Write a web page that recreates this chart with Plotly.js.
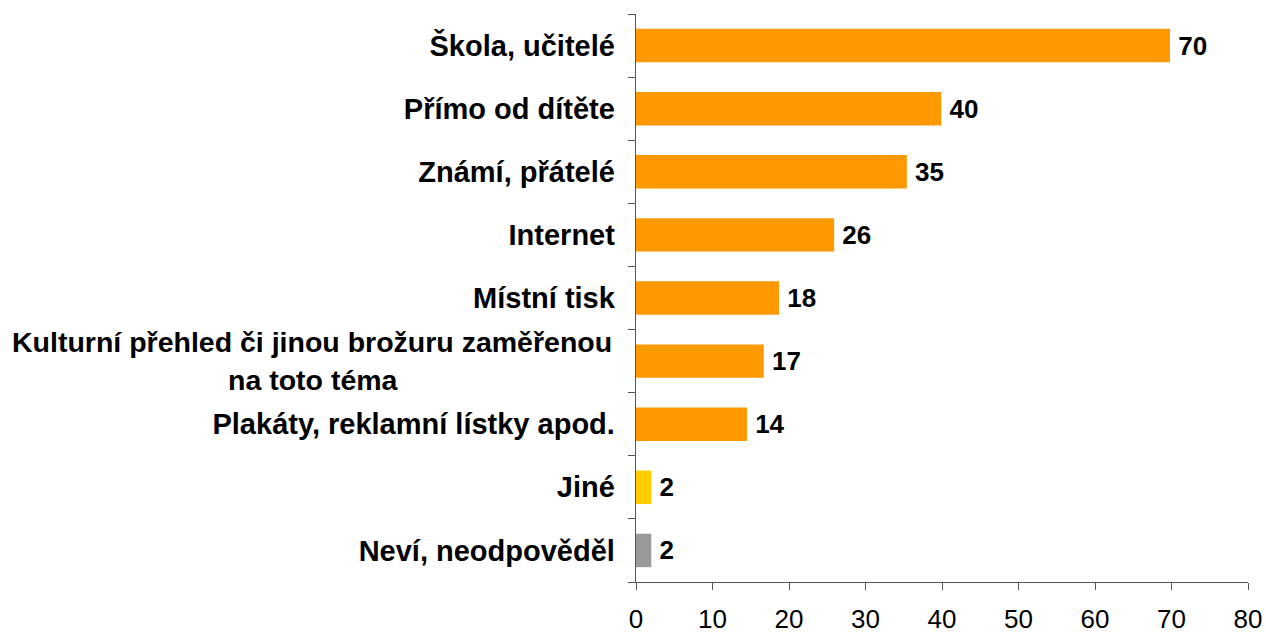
<!DOCTYPE html>
<html>
<head>
<meta charset="utf-8">
<script src="https://cdn.plot.ly/plotly-3.0.1.min.js"></script>
<style>html,body{margin:0;padding:0;background:#fff;}#chart{width:1266px;height:635px;}</style>
</head>
<body>
<div id="chart"></div>
<script>
const categories = [
  "Škola, učitelé",
  "Přímo od dítěte",
  "Známí, přátelé",
  "Internet",
  "Místní tisk",
  "Kulturní přehled či jinou brožuru zaměřenou na toto téma",
  "Plakáty, reklamní lístky apod.",
  "Jiné",
  "Neví, neodpověděl"
];
const values = [69.8, 39.9, 35.4, 25.9, 18.7, 16.7, 14.5, 2, 2];
const valueLabels = ["70", "40", "35", "26", "18", "17", "14", "2", "2"];
const barColors = ["#FF9900", "#FF9900", "#FF9900", "#FF9900", "#FF9900", "#FF9900", "#FF9900", "#FFCC00", "#999999"];
const xTicks = [0, 10, 20, 30, 40, 50, 60, 70, 80];

const longIdx = 5;
const longLines = ["Kulturní přehled či jinou brožuru zaměřenou", "na toto téma"];
const tickText = categories.map((c, i) => i === longIdx ? "" : c);

const FONT = "Liberation Sans, Arial, sans-serif";

const trace = {
  type: "bar",
  orientation: "h",
  x: values,
  y: categories,
  width: 0.53,
  marker: {color: barColors},
  text: valueLabels,
  textposition: "outside",
  textfont: {family: FONT, size: 26, color: "#000"},
  texttemplate: "\u2009<b>%{text}</b>",
  cliponaxis: false,
  hoverinfo: "none"
};

const layout = {
  width: 1266,
  height: 635,
  margin: {l: 636, r: 18, t: 14, b: 53},
  paper_bgcolor: "#fff",
  plot_bgcolor: "#fff",
  showlegend: false,
  xaxis: {
    range: [0, 80],
    tickvals: xTicks,
    ticks: "outside",
    ticklen: 7,
    tickcolor: "#555",
    showline: true,
    linecolor: "#555",
    linewidth: 1.3,
    showgrid: false,
    zeroline: false,
    ticklabelstandoff: 6,
    tickfont: {family: FONT, size: 26, color: "#000"},
    fixedrange: true
  },
  yaxis: {
    type: "category",
    categoryorder: "array",
    categoryarray: categories,
    autorange: "reversed",
    tickvals: categories,
    ticktext: tickText,
    tickson: "boundaries",
    ticks: "outside",
    ticklen: 7,
    tickcolor: "#555",
    showline: true,
    linecolor: "#555",
    linewidth: 1.3,
    showgrid: false,
    zeroline: false,
    ticklabelstandoff: 14,
    tickfont: {family: FONT, size: 29, color: "#000", weight: "bold"},
    fixedrange: true
  },
  annotations: [
    {xref: "paper", yref: "y", x: 0, y: categories[longIdx], xanchor: "right", yanchor: "middle",
     xshift: -22, yshift: 19, showarrow: false, text: "<b>" + longLines[0] + "</b>",
     font: {family: FONT, size: 28.5, color: "#000"}},
    {xref: "paper", yref: "y", x: 0, y: categories[longIdx], xanchor: "center", yanchor: "middle",
     xshift: -323, yshift: -19, showarrow: false, text: "<b>" + longLines[1] + "</b>",
     font: {family: FONT, size: 28.5, color: "#000"}}
  ]
};

Plotly.newPlot("chart", [trace], layout, {displayModeBar: false, staticPlot: true});
</script>
</body>
</html>
